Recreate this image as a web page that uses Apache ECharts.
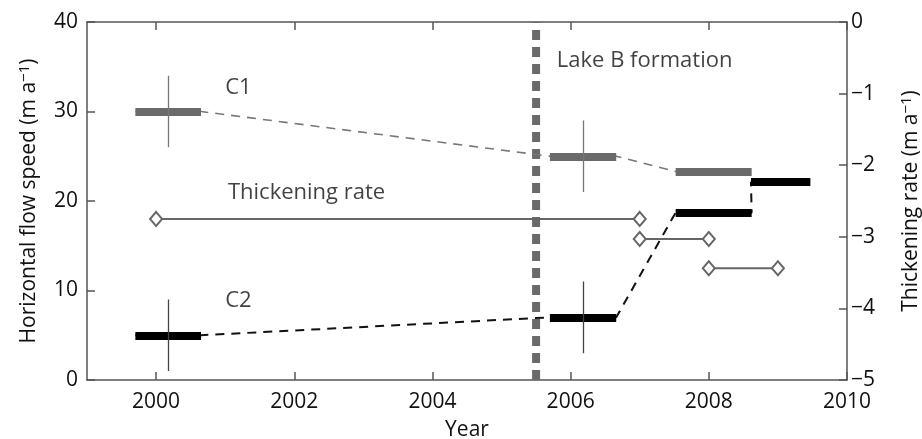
<!DOCTYPE html>
<html>
<head>
<meta charset="utf-8">
<script src="https://cdn.jsdelivr.net/npm/echarts@6/dist/echarts.min.js"></script>
<style>html,body{margin:0;padding:0;background:#fff;}#c{width:922px;height:439px;}</style>
</head>
<body>
<div id="c"></div>
<script>
// ---- data ----
const yearTicks = [2000, 2002, 2004, 2006, 2008, 2010];
const c1Start = [1999.7, 2005.7, 2007.52];
const c1End = [2000.65, 2006.66, 2008.62];
const c1Speed = [30, 25, 23.3];
const c1ErrYear = [2000.17, 2006.18];
const c1ErrLow = [26, 21];
const c1ErrHigh = [34, 29];
const c2Start = [1999.7, 2005.7, 2007.52, 2008.61];
const c2End = [2000.65, 2006.66, 2008.62, 2009.47];
const c2Speed = [5, 7, 18.7, 22.1];
const c2ErrYear = [2000.17, 2006.18];
const c2ErrLow = [1, 3];
const c2ErrHigh = [9, 11];
const thickStart = [2000, 2007, 2008];
const thickEnd = [2007, 2008, 2009];
const thickRate = [-2.75, -3.03, -3.44];
const lakeYear = 2005.5;
const annotations = [
  {text: 'C1', year: 2001.0, value: 32.7},
  {text: 'Thickening rate', year: 2001.04, value: 20.9},
  {text: 'C2', year: 2001.0, value: 8.9},
  {text: 'Lake B formation', year: 2005.8, value: 35.7}
];

const FONT = 'Open Sans';
const TXT = '#111';
const AX = '#555';
const chart = echarts.init(document.getElementById('c'));

function path(starts, ends, vals) {
  const d = [];
  for (let i = 0; i < vals.length; i++) { d.push([starts[i], vals[i]]); d.push([ends[i], vals[i]]); }
  return d;
}
function bars(starts, ends, vals) {
  return vals.map((v, i) => ({coords: [[starts[i], v], [ends[i], v]]}));
}
function errs(xs, lo, hi) {
  return xs.map((x, i) => ({coords: [[x, lo[i]], [x, hi[i]]]}));
}

const series = [
  {type: 'line', name: 'lake', data: [[lakeYear, 0], [lakeYear, 40]], symbol: 'none', silent: true,
   lineStyle: {color: '#6a6a6a', width: 8, type: [10, 7]}, z: 1},
  {type: 'line', data: path(c1Start, c1End, c1Speed), symbol: 'none',
   lineStyle: {color: '#777', width: 1.6, type: [9, 7]}, z: 2},
  {type: 'line', data: path(c2Start, c2End, c2Speed), symbol: 'none',
   lineStyle: {color: '#111', width: 2, type: [9, 7]}, z: 2},
  {type: 'lines', coordinateSystem: 'cartesian2d', data: bars(c1Start, c1End, c1Speed),
   lineStyle: {color: '#6a6a6a', width: 8, opacity: 1, cap: 'butt'}, z: 3},
  {type: 'lines', coordinateSystem: 'cartesian2d', data: bars(c2Start, c2End, c2Speed),
   lineStyle: {color: '#000', width: 8, opacity: 1, cap: 'butt'}, z: 3},
  {type: 'lines', coordinateSystem: 'cartesian2d', data: errs(c1ErrYear, c1ErrLow, c1ErrHigh),
   lineStyle: {color: '#777', width: 1.3, opacity: 1}, z: 4},
  {type: 'lines', coordinateSystem: 'cartesian2d', data: errs(c2ErrYear, c2ErrLow, c2ErrHigh),
   lineStyle: {color: '#444', width: 1.3, opacity: 1}, z: 4}
];
thickRate.forEach((r, i) => {
  series.push({type: 'line', yAxisIndex: 1, data: [[thickStart[i], r], [thickEnd[i], r]],
    symbol: 'diamond', symbolSize: [12, 14], showAllSymbol: true,
    itemStyle: {color: '#fff', borderColor: '#666', borderWidth: 2},
    lineStyle: {color: '#666', width: 2}, z: 5});
});
series.push({type: 'scatter', symbolSize: 0, silent: true,
  data: annotations.map(a => ({value: [a.year, a.value], name: a.text})),
  label: {show: true, position: 'inside', align: 'left', verticalAlign: 'middle',
    formatter: p => p.name, fontFamily: FONT, fontSize: 22, color: TXT}, z: 6});

const supName = (t) => '{a|' + t + ' (m a}{s|\u22121}{a|)}';
const nameRich = {a: {fontFamily: FONT, fontSize: 21, color: TXT},
  s: {fontFamily: FONT, fontSize: 15, color: TXT, verticalAlign: 'top', padding: [0, 0, 10, 0]}};

chart.setOption({
  animation: false,
  backgroundColor: '#fff',
  grid: {left: 87, right: 75, top: 22, bottom: 59, containLabel: false, outerBoundsMode: 'none'},
  xAxis: [
    {type: 'value', min: 1999, max: 2010, position: 'bottom',
     name: 'Year', nameLocation: 'middle', nameGap: 40,
     nameTextStyle: {fontFamily: FONT, fontSize: 21, color: TXT},
     axisLine: {show: true, lineStyle: {color: AX, width: 1.5}},
     axisTick: {show: true, inside: true, length: 8, customValues: yearTicks, lineStyle: {color: AX, width: 1.5}},
     axisLabel: {show: true, customValues: yearTicks, formatter: v => String(v), margin: 12,
       fontFamily: FONT, fontSize: 21, color: TXT},
     splitLine: {show: false}},
    {type: 'value', min: 1999, max: 2010, position: 'top',
     axisLine: {show: true, onZero: false, lineStyle: {color: AX, width: 1.5}},
     axisTick: {show: true, inside: true, length: 8, customValues: yearTicks, lineStyle: {color: AX, width: 1.5}},
     axisLabel: {show: false}, splitLine: {show: false}}
  ],
  yAxis: [
    {type: 'value', min: 0, max: 40, interval: 10, position: 'left',
     name: supName('Horizontal flow speed'), nameLocation: 'middle', nameGap: 45, nameRotate: 90,
     nameTextStyle: {rich: nameRich},
     axisLine: {show: true, lineStyle: {color: AX, width: 1.5}},
     axisTick: {show: true, inside: true, length: 8, lineStyle: {color: AX, width: 1.5}},
     axisLabel: {margin: 9, fontFamily: FONT, fontSize: 21, color: TXT},
     splitLine: {show: false}},
    {type: 'value', min: -5, max: 0, interval: 1, position: 'right',
     name: supName('Thickening rate'), nameLocation: 'middle', nameGap: 52, nameRotate: 90,
     nameTextStyle: {rich: nameRich},
     axisLine: {show: true, lineStyle: {color: AX, width: 1.5}},
     axisTick: {show: true, inside: true, length: 8, lineStyle: {color: AX, width: 1.5}},
     axisLabel: {margin: 4, fontFamily: FONT, fontSize: 21, color: TXT,
       formatter: v => v < 0 ? '\u2212' + (-v) : String(v)},
     splitLine: {show: false}}
  ],
  series: series
});
</script>
</body>
</html>
